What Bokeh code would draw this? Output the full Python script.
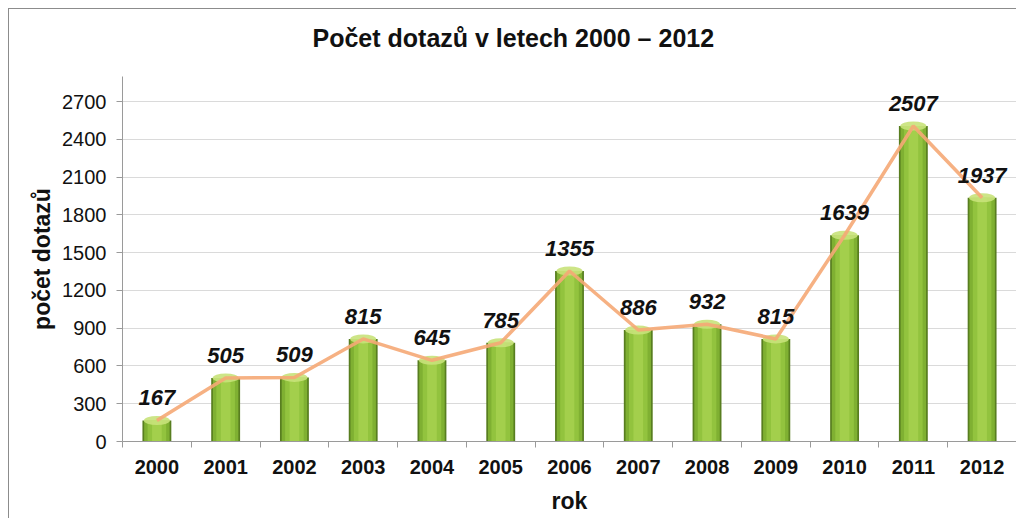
from bokeh.plotting import figure
from bokeh.models import ColumnDataSource, FixedTicker, Range1d, Title
from bokeh.core.properties import value
from bokeh.embed import file_html
from bokeh.resources import INLINE

years = [2000, 2001, 2002, 2003, 2004, 2005, 2006, 2007, 2008, 2009, 2010, 2011, 2012]
counts = [167, 505, 509, 815, 645, 785, 1355, 886, 932, 815, 1639, 2507, 1937]
y_ticks = [0, 300, 600, 900, 1200, 1500, 1800, 2100, 2400, 2700]
y_axis_max = 2900
title_text = "Počet dotazů v letech 2000 – 2012"
x_label = "rok"
y_label = "počet dotazů"

src = ColumnDataSource(dict(x=years, y=counts, lab=[str(c) for c in counts]))

FONT = "Liberation Sans"

p = figure(width=1008, height=510, output_backend="svg", toolbar_location=None,
           x_range=Range1d(years[0] - 0.5, years[-1] + 0.5),
           y_range=Range1d(y_ticks[0], y_axis_max),
           min_border_left=113, min_border_right=1, min_border_top=67, min_border_bottom=78,
           title=title_text)
p.styles = {"border-left": "1px solid #8c8c8c", "border-top": "1px solid #8c8c8c",
            "margin-left": "8px", "margin-top": "8px"}
p.outline_line_color = None
p.background_fill_color = "white"
p.border_fill_color = "white"

p.title.text_font = FONT
p.title.text_font_size = "25px"
p.title.text_font_style = "bold"
p.title.text_color = "#111111"
p.title.align = "left"
p.title.offset = 190
p.title.standoff = 0
p.title.vertical_align = "bottom"

# blank spacer between the title and the frame
p.add_layout(Title(text="\u00a0", text_font_size="10px", standoff=12), "above")

# bars simulated as cylinders by layered widths
p.vbar(x="x", top="y", bottom=0, width=0.42, source=src, fill_color="#587e20", line_color=None)
p.vbar(x="x", top="y", bottom=0, width=0.37, source=src, fill_color="#7fb032", line_color=None)
p.vbar(x="x", top="y", bottom=0, width=0.27, source=src, fill_color="#92c33e", line_color=None)
p.vbar(x="x", top="y", bottom=0, width=0.14, source=src, fill_color="#a3cf4c", line_color=None)
p.ellipse(x="x", y="y", width=26, height=9, width_units="screen", height_units="screen",
          source=src, fill_color="#c8e27a", line_color=None, fill_alpha=0.9)

p.line(x="x", y="y", source=src, line_color="#f5a875", line_width=3.5, line_alpha=0.9)

p.text(x="x", y="y", text="lab", source=src, text_font=value(FONT), text_font_size="22px",
       text_font_style="bold italic", text_color="#111111", text_align="center",
       text_baseline="bottom", y_offset=-15)

# axes
p.xaxis.ticker = FixedTicker(ticks=years, minor_ticks=[y + 0.5 for y in [years[0] - 1] + years])
p.xaxis.major_tick_line_color = None
p.xaxis.minor_tick_out = 6
p.xaxis.minor_tick_in = 0
p.xaxis.minor_tick_line_color = "#9a9a9a"
p.xaxis.axis_line_color = "#9a9a9a"
p.xaxis.major_label_text_font = FONT
p.xaxis.major_label_text_font_size = "20px"
p.xaxis.major_label_text_font_style = "bold"
p.xaxis.major_label_text_color = "#111111"
p.xaxis.major_label_standoff = 12
p.xaxis.axis_label = x_label
p.xaxis.axis_label_text_font = FONT
p.xaxis.axis_label_text_font_size = "23px"
p.xaxis.axis_label_text_font_style = "bold"
p.xaxis.axis_label_text_color = "#111111"
p.xaxis.axis_label_standoff = 11

p.yaxis.ticker = FixedTicker(ticks=y_ticks)
p.yaxis.major_tick_out = 6
p.yaxis.major_tick_in = 0
p.yaxis.minor_tick_line_color = None
p.yaxis.major_tick_line_color = "#9a9a9a"
p.yaxis.axis_line_color = "#9a9a9a"
p.yaxis.major_label_text_font = FONT
p.yaxis.major_label_text_font_size = "20px"
p.yaxis.major_label_text_color = "#111111"
p.yaxis.major_label_standoff = 10
p.yaxis.axis_label = y_label
p.yaxis.axis_label_text_font = FONT
p.yaxis.axis_label_text_font_size = "23px"
p.yaxis.axis_label_text_font_style = "bold"
p.yaxis.axis_label_text_color = "#111111"
p.yaxis.axis_label_standoff = 4

p.xgrid.grid_line_color = None
p.ygrid.grid_line_color = "#dadada"
p.ygrid.ticker = FixedTicker(ticks=y_ticks)

open("out.html", "w").write(file_html(p, INLINE))
